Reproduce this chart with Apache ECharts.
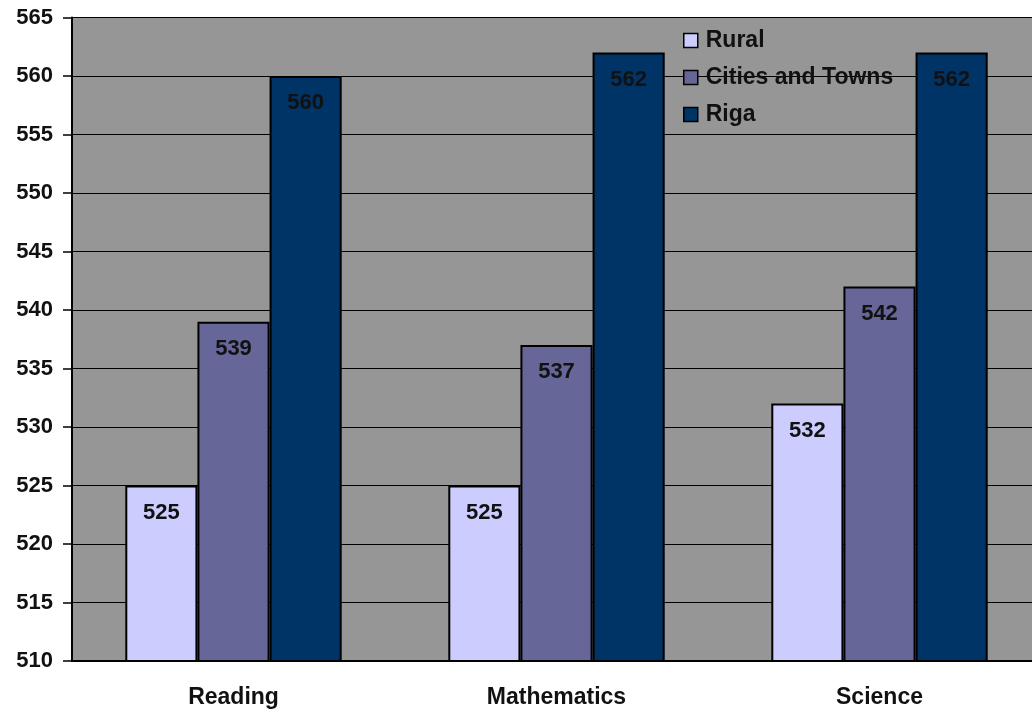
<!DOCTYPE html>
<html lang="en">
<head>
  <meta charset="UTF-8">
  <title>Scores</title>
  <style>
    html, body { margin: 0; padding: 0; background: #fff; overflow: hidden; }
    .chart { width: 1041px; height: 711px; }
  </style>
</head>
<body>
  <div class="chart"></div>
  <script src="https://cdn.jsdelivr.net/npm/echarts@6/dist/echarts.min.js"></script>
  <script>
    let subjects = ['Reading', 'Mathematics', 'Science'];
    let rural = [525, 525, 532];
    let cities = [539, 537, 542];
    let riga = [560, 562, 562];
    let seriesNames = ['Rural', 'Cities and Towns', 'Riga'];
    let colors = ['#ccccff', '#666699', '#003366'];

    window.onload = function () {
      let myChart = echarts.init(document.querySelector('.chart'));
      let font = 'Liberation Sans, Arial, sans-serif';
      let values = [rural, cities, riga];

      // plot runs a little past the right edge of the window, as in the original
      let option = {
        animation: false,
        textStyle: { fontFamily: font },
        grid: {
          left: 72, right: 0, top: 17.5, bottom: 50,
          show: true, backgroundColor: '#969696', borderWidth: 0
        },
        legend: {
          left: 678, top: 24,
          orient: 'vertical',
          itemGap: 14,
          itemWidth: 14, itemHeight: 14,
          icon: 'rect',
          itemStyle: { borderColor: '#000', borderWidth: 1.5 },
          textStyle: {
            fontSize: 23, fontWeight: 'bold', color: '#111', fontFamily: font,
            padding: [0, 0, 0, 3]
          },
          data: seriesNames
        },
        xAxis: {
          type: 'category',
          data: subjects,
          axisLine: { lineStyle: { color: '#000', width: 2 } },
          axisTick: { length: 9, lineStyle: { color: '#000', width: 1.5 } },
          axisLabel: { fontSize: 23, fontWeight: 'bold', color: '#111', margin: 25 }
        },
        yAxis: {
          type: 'value',
          min: 510, max: 565, interval: 5,
          axisLine: { show: true, lineStyle: { color: '#000', width: 2 } },
          axisTick: { show: true, length: 9, lineStyle: { color: '#000', width: 1.5 } },
          axisLabel: { fontSize: 22, fontWeight: 'bold', color: '#111', margin: 19 },
          splitLine: { lineStyle: { color: '#000', width: 1.2 } }
        },
        series: seriesNames.map((name, i) => ({
          name: name,
          type: 'bar',
          data: values[i],
          barGap: '0%',
          barCategoryGap: '33%',
          itemStyle: { color: colors[i], borderColor: '#000', borderWidth: 2 },
          label: {
            show: true, position: 'insideTop', distance: 16,
            fontSize: 22, fontWeight: 'bold', color: '#111', fontFamily: font
          }
        }))
      };
      myChart.setOption(option);
    };
  </script>
</body>
</html>
